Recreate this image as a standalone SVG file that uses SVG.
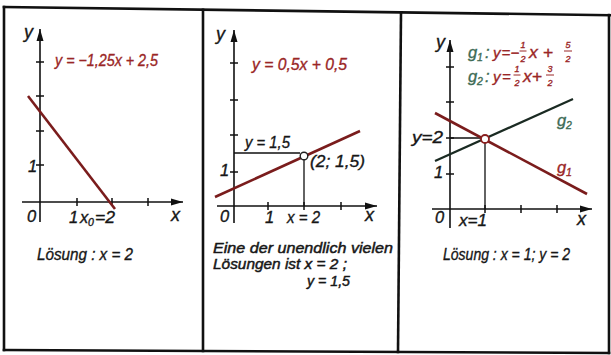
<svg xmlns="http://www.w3.org/2000/svg" width="611" height="355" viewBox="0 0 611 355">
<style>
text{font-family:"Liberation Sans",Arial,sans-serif;font-style:italic;font-size:16.5px;fill:#161616;stroke:#161616;stroke-width:0.35}
.red{fill:#9a2626;stroke:#9a2626}
.grn{fill:#3d6b55;stroke:#3d6b55}
.sub{font-size:10.5px}
.frac{font-size:9px;text-anchor:middle}
.eq{font-size:15px}
.lab{font-size:18px}
.note{font-size:14px;stroke-width:0.45}
.frame{stroke:#111;stroke-width:2.6;fill:none;stroke-linecap:square}
.axis{stroke:#111;stroke-width:1.6;fill:none}
.tick{stroke:#111;stroke-width:1.5}
.help{stroke:#111;stroke-width:1.3;fill:none}
.rline{stroke:#7a1c1c;stroke-width:2.6;fill:none}
.bline{stroke:#1a2a22;stroke-width:2.2;fill:none}
.fbar{stroke:#9a2626;stroke-width:1}
</style>
<defs>
<marker id="arr" markerUnits="userSpaceOnUse" markerWidth="14" markerHeight="10" refX="12" refY="4" orient="auto">
<path d="M0,0.5 L12,4 L0,7.5 Z" fill="#111"/>
</marker>
</defs>
<rect width="611" height="355" fill="#fff"/>
<g id="frame">
<line class="frame" x1="4" y1="7" x2="611" y2="15.2"/>
<line class="frame" x1="4" y1="350" x2="609" y2="353"/>
<line class="frame" x1="4" y1="7" x2="4" y2="350"/>
<line class="frame" x1="203" y1="9.7" x2="203" y2="351"/>
<line class="frame" x1="401" y1="12.4" x2="398" y2="352"/>
<line class="frame" x1="609" y1="15" x2="609" y2="353"/>
</g>
<g id="panel1">
<line class="axis" x1="22" y1="202" x2="183" y2="202" marker-end="url(#arr)"/>
<line class="axis" x1="40" y1="222" x2="40" y2="29" marker-end="url(#arr)"/>
<path class="tick" d="M36,165H44M36,131H44M36,96H44M36,62H44M77,198V206M112,198V206M148,198V206"/>
<line class="rline" x1="28" y1="96" x2="115" y2="209"/>
<text class="lab" x="24" y="38">y</text>
<text class="red" x="55" y="66" textLength="103" lengthAdjust="spacingAndGlyphs">y = −1,25x + 2,5</text>
<text x="28" y="172">1</text>
<text x="27" y="222">0</text>
<text x="69" y="223">1</text>
<text x="80" y="223">x</text><text class="sub" x="88" y="226">0</text><text x="95" y="223" textLength="20" lengthAdjust="spacingAndGlyphs">=2</text>
<text class="lab" x="171" y="221">x</text>
<text x="37" y="260" textLength="96" lengthAdjust="spacingAndGlyphs">Lösung : x = 2</text>
</g>
<g id="panel2">
<line class="axis" x1="217" y1="206" x2="377" y2="206" marker-end="url(#arr)"/>
<line class="axis" x1="234" y1="223" x2="234" y2="30" marker-end="url(#arr)"/>
<path class="tick" d="M230,172H238M230,135H238M230,100H238M230,63H238M268,202V210M341,202V210M304,202V210"/>
<path class="help" d="M234,153H300M304,160V206"/>
<line class="rline" x1="215" y1="197" x2="360" y2="131"/>
<circle cx="304" cy="156" r="3.8" fill="#fff" stroke="#222" stroke-width="1.4"/>
<text class="lab" x="216" y="40">y</text>
<text class="red" x="252" y="70" textLength="95" lengthAdjust="spacingAndGlyphs">y = 0,5x + 0,5</text>
<text x="245" y="148" textLength="45" lengthAdjust="spacingAndGlyphs">y = 1,5</text>
<text x="310" y="167" textLength="55" lengthAdjust="spacingAndGlyphs">(2; 1,5)</text>
<text x="220" y="176">1</text>
<text x="220" y="222">0</text>
<text x="265" y="223">1</text>
<text x="287" y="223" textLength="33" lengthAdjust="spacingAndGlyphs">x = 2</text>
<text class="lab" x="365" y="221">x</text>
<text class="note" x="213" y="253" textLength="180" lengthAdjust="spacingAndGlyphs">Eine der unendlich vielen</text>
<text class="note" x="213" y="269" textLength="134" lengthAdjust="spacingAndGlyphs">Lösungen ist x = 2 ;</text>
<text class="note" x="307" y="286" textLength="43" lengthAdjust="spacingAndGlyphs">y = 1,5</text>
</g>
<g id="panel3">
<line class="axis" x1="432" y1="209" x2="592" y2="209" marker-end="url(#arr)"/>
<line class="axis" x1="450" y1="228" x2="450" y2="40" marker-end="url(#arr)"/>
<path class="tick" d="M446,174H454M446,138H454M446,102H454M446,67H454M485,205V213M521,205V213M557,205V213"/>
<path class="help" d="M450,138H481M485,143V209"/>
<line class="bline" x1="435" y1="161" x2="573" y2="99"/>
<line class="rline" x1="435" y1="113" x2="587" y2="194"/>
<circle cx="485" cy="139" r="4" fill="#fff" stroke="#8a1f1f" stroke-width="1.8"/>
<text class="lab" x="436" y="48">y</text>
<text class="grn" x="468" y="58">g</text><text class="grn sub" x="477" y="61">1</text><text class="grn" x="485" y="58">:</text>
<text class="red eq" x="493" y="58">y</text><text class="red eq" x="501.5" y="58">=</text><text class="red eq" x="510.5" y="58">−</text>
<text class="red frac" x="523" y="47.5">1</text><line class="fbar" x1="519.5" y1="51" x2="526.5" y2="51"/><text class="red frac" x="523" y="62">2</text>
<text class="red" x="529" y="58" textLength="24" lengthAdjust="spacingAndGlyphs">x +</text>
<text class="red frac" x="568" y="47.5">5</text><line class="fbar" x1="564" y1="51" x2="572" y2="51"/><text class="red frac" x="568" y="62">2</text>
<text class="grn" x="468" y="82">g</text><text class="grn sub" x="477" y="85">2</text><text class="grn" x="485" y="82">:</text>
<text class="red eq" x="493" y="82">y</text><text class="red eq" x="502" y="82">=</text>
<text class="red frac" x="517" y="71.5">1</text><line class="fbar" x1="513.5" y1="75" x2="520.5" y2="75"/><text class="red frac" x="517" y="86">2</text>
<text class="red" x="523" y="82" textLength="19" lengthAdjust="spacingAndGlyphs">x+</text>
<text class="red frac" x="550" y="71.5">3</text><line class="fbar" x1="546" y1="75" x2="554" y2="75"/><text class="red frac" x="550" y="86">2</text>
<text class="grn" x="557" y="126">g</text><text class="grn sub" x="566" y="129">2</text>
<text class="red" x="557" y="173">g</text><text class="red sub" x="566" y="176">1</text>
<text x="412" y="143" textLength="31" lengthAdjust="spacingAndGlyphs">y=2</text>
<text x="434" y="178">1</text>
<text x="435" y="223">0</text>
<text x="459" y="226" textLength="28" lengthAdjust="spacingAndGlyphs">x=1</text>
<text class="lab" x="577" y="225">x</text>
<text x="443" y="260" textLength="127" lengthAdjust="spacingAndGlyphs">Lösung : x = 1; y = 2</text>
</g>
</svg>
